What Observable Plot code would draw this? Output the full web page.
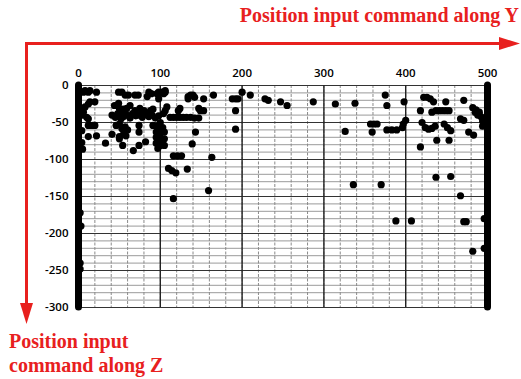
<!DOCTYPE html>
<html><head><meta charset="utf-8">
<script src="https://cdn.jsdelivr.net/npm/d3@7"></script>
<script src="https://cdn.jsdelivr.net/npm/@observablehq/plot@0.6"></script>
<style>
body{margin:0;background:#fff;}
#wrap{position:relative;width:521px;height:379px;overflow:hidden;}
#wrap svg{position:absolute;left:0;top:0;}
</style></head><body><div id="wrap"></div>
<script>
// [Y command, Z command] pairs
const pointsLeft = [
  [6,-9],[12,-9],[22,-9],[8,-7],[14,-7],
  [8,-29],[12,-25],[14,-22],[20,-22],[5,-34],[6,-36],
  [5,-40],[10,-43],[12,-45],
  [12,-54],[14,-54],[18,-54],[20,-54],
  [12,-69],[22,-68],[33,-78],
  [4,-61],[4,-77],[5,-86],
  [2,-172],[3,-190],[2,-240],[2,-248]
];
const pointsCluster = [
  [49,-9],[53,-9],[57,-13],[61,-13],[69,-13],[73,-13],[86,-9],[84,-15],[89,-11],
  [96,-11],[98,-9],[102,-9],[106,-9],[98,-18],
  [44,-27],[49,-24],[50,-31],[53,-34],[55,-32],[59,-31],[63,-27],[69,-34],[75,-31],[80,-34],[88,-34],[91,-32],
  [41,-40],[45,-43],[48,-38],[52,-45],[55,-42],[59,-40],[63,-44],[66,-38],[70,-41],[74,-40],[78,-43],[82,-39],[86,-42],[90,-40],[94,-44],[98,-41],
  [46,-54],[50,-52],[53,-58],[57,-56],[60,-60],[55,-66],[58,-68],
  [74,-54],[91,-54],[95,-55],[100,-50],[99,-58],[103,-57],
  [41,-66],[50,-69],[50,-72],[54,-81],[74,-63],[82,-76],[74,-81],[67,-88],
  [95,-63],[100,-65],[95,-70],[100,-74],[95,-78],[100,-81],[97,-85],[105,-63],[105,-72],[105,-81]
];
const pointsMiddle = [
  [104,-11],[106,-7],[134,-15],[137,-13],[140,-13],[142,-16],[134,-18],[153,-18],[165,-13],
  [188,-18],[192,-18],[195,-18],[200,-9],[210,-13],[228,-18],[232,-20],
  [108,-29],[106,-34],[104,-38],[122,-34],[124,-31],[149,-34],[153,-34],[147,-31],
  [112,-43],[116,-43],[120,-43],[124,-43],[128,-43],[132,-43],[137,-43],[142,-44],[147,-44],
  [143,-63],[192,-59],[192,-34],[139,-79],
  [116,-95],[121,-95],[126,-95],[163,-97],
  [110,-112],[114,-115],[119,-118],[133,-113],
  [116,-153],[159,-142],
  [247,-22],[255,-27],[287,-22],[314,-25],[338,-24],[375,-13],[377,-27],[398,-22],
  [357,-52],[361,-52],[365,-52],[359,-63],[326,-62],
  [377,-60],[383,-60],[389,-60],[396,-57],[397,-52],[400,-47],
  [336,-134],[370,-134],[388,-183],[407,-183]
];
const pointsRight = [
  [422,-16],[426,-16],[430,-18],[434,-22],[449,-22],[471,-20],
  [418,-34],[432,-36],[437,-34],[441,-34],[445,-34],[449,-34],[453,-34],
  [420,-50],[424,-57],[428,-59],[432,-58],[436,-55],[447,-52],[451,-57],[455,-61],
  [467,-45],[471,-47],[477,-63],[483,-67],
  [438,-74],[453,-74],[418,-83],
  [482,-30],[486,-33],[490,-36],[492,-42],[494,-48],[494,-55],[488,-40],[485,-36],
  [437,-124],[455,-123],[467,-149],[471,-184],[474,-184],[482,-224],[496,-180],[496,-220]
];
// continuous traces at the two ends of the Y range
const edgeY = [0, 500];
const edgeTop = [0, 0];
const edgeBottom = [-300, -300];

const xTicks = [0, 100, 200, 300, 400, 500];
const zTicks = [0, -50, -100, -150, -200, -250, -300];

const points = [...pointsLeft, ...pointsCluster, ...pointsMiddle, ...pointsRight];
const xMinor = d3.range(0, 501, 20);
const zMinor = d3.range(0, -301, -10);

const chart = Plot.plot({
  width: 521, height: 379,
  marginLeft: 78, marginRight: 34, marginTop: 85, marginBottom: 72,
  x: {domain: [0, 500]},
  y: {domain: [-300, 0]},
  style: {fontFamily: "'Open Sans', sans-serif", fontSize: "11.5px", color: "black", background: "transparent"},
  marks: [
    Plot.ruleY(zMinor, {stroke: "#9a9a9a", strokeWidth: 1}),
    Plot.ruleX(xMinor, {stroke: "#8a8a8a", strokeWidth: 1, strokeDasharray: "3,1.5"}),
    Plot.ruleY(zTicks, {stroke: "#333", strokeWidth: 1.2}),
    Plot.ruleX(xTicks, {stroke: "#222", strokeWidth: 1.4}),
    Plot.axisX({anchor: "top", ticks: xTicks, tickSize: 0, tickPadding: 9, fontWeight: 600, tickFormat: d => String(d)}),
    Plot.axisY({anchor: "left", ticks: zTicks, tickSize: 0, tickPadding: 10, fontWeight: 600, tickFormat: d => String(d)}),
    Plot.ruleX(edgeY.map((d, i) => i), {x: i => edgeY[i], y1: i => edgeBottom[i], y2: i => edgeTop[i], stroke: "black", strokeWidth: 7, strokeLinecap: "round"}),
    Plot.dot(points, {x: d => d[0], y: d => d[1], r: 3.6, fill: "black", stroke: "none"})
  ]
});
const wrap = document.getElementById("wrap");
wrap.appendChild(chart);

// annotation overlay: red arrows and titles
const red = "#e8201e";
const ov = d3.select(wrap).append("svg").attr("width", 521).attr("height", 379);
ov.append("line").attr("x1", 26.5).attr("y1", 43.5).attr("x2", 502).attr("y2", 43.5).attr("stroke", red).attr("stroke-width", 3);
ov.append("polygon").attr("points", "499,37 520,43.5 499,50").attr("fill", red);
ov.append("line").attr("x1", 26.5).attr("y1", 42).attr("x2", 26.5).attr("y2", 306).attr("stroke", red).attr("stroke-width", 3);
ov.append("polygon").attr("points", "20,303 26.5,324 33,303").attr("fill", red);
const tf = "'Liberation Serif', 'Times New Roman', serif";
ov.append("text").attr("x", 519).attr("y", 22).attr("text-anchor", "end").attr("fill", red)
  .attr("font-family", tf).attr("font-weight", "bold").attr("font-size", 20).text("Position input command along Y");
ov.append("text").attr("x", 9).attr("y", 348).attr("fill", red)
  .attr("font-family", tf).attr("font-weight", "bold").attr("font-size", 20).text("Position input");
ov.append("text").attr("x", 9).attr("y", 372).attr("fill", red)
  .attr("font-family", tf).attr("font-weight", "bold").attr("font-size", 20).text("command along Z");
</script></body></html>
